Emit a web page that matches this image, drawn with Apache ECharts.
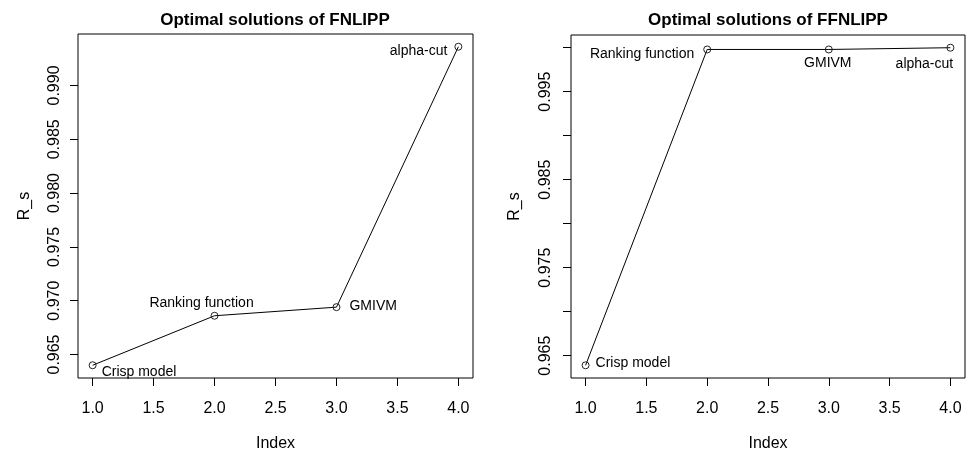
<html>
<head>
<title>Optimal solutions</title>
<script src="https://cdn.jsdelivr.net/npm/echarts@6/dist/echarts.min.js"></script>
<style>
  body { margin: 0; background: #fff; }
  #container { width: 969px; height: 452px; }
</style>
</head>
<body>
<div id="container"></div>
<script type="text/javascript">
  // data
  var methods = ['Crisp model', 'Ranking function', 'GMIVM', 'alpha-cut'];
  var index = [1, 2, 3, 4];
  var rsFNLIPP = [0.9640, 0.9686, 0.9694, 0.9936];
  var rsFFNLIPP = [0.9639, 0.9998, 0.9998, 1.0000];
  var xTicks = [1, 1.5, 2, 2.5, 3, 3.5, 4];
  var yTicksLeft = [0.965, 0.970, 0.975, 0.980, 0.985, 0.990];
  var yTicksRight = [0.965, 0.970, 0.975, 0.980, 0.985, 0.990, 0.995, 1.000];
  var yLabelsRight = [0.965, 0.975, 0.985, 0.995];

  var font = 'Liberation Sans, Arial, sans-serif';

  // R style range: 4% padding each side
  function pad(arr) {
    var mn = Math.min.apply(null, arr), mx = Math.max.apply(null, arr);
    var d = (mx - mn) * 0.04;
    return [mn - d, mx + d];
  }

  function pts(ys) {
    return index.map(function(x, i) { return [x, ys[i]]; });
  }

  function labelled(ys, place) {
    return pts(ys).map(function(p, i) {
      return {
        value: p,
        name: methods[i],
        label: { position: place[i][0], offset: place[i][1] }
      };
    });
  }

  var leftPlace = [['right', [0, 7]], ['top', [-13, 8]], ['right', [4, -1]], ['left', [-2, 4]]];
  var rightPlace = [['right', [1, -2]], ['left', [-4, 5]], ['bottom', [-1, -7]], ['bottom', [-26, -5]]];

  var xr = pad(index);
  var yl = pad(rsFNLIPP);
  var yr = pad(rsFFNLIPP);

  function xAxis(gi) {
    return {
      type: 'value', gridIndex: gi, min: xr[0], max: xr[1],
      name: 'Index', nameLocation: 'middle', nameGap: 52,
      nameTextStyle: { fontFamily: font, fontSize: 16, color: '#000' },
      axisLine: { show: false },
      splitLine: { show: false },
      axisTick: { show: true, inside: false, length: 8, customValues: xTicks, lineStyle: { color: '#000' } },
      axisLabel: {
        customValues: xTicks, margin: 17, fontFamily: font, fontSize: 16, color: '#000',
        formatter: function(v) { return v.toFixed(1); }
      }
    };
  }

  function yAxis(gi, r, ticks, labels, gap, margin) {
    return {
      type: 'value', gridIndex: gi, min: r[0], max: r[1],
      name: 'R_s', nameLocation: 'middle', nameGap: gap,
      nameTextStyle: { fontFamily: font, fontSize: 16, color: '#000' },
      axisLine: { show: false },
      splitLine: { show: false },
      axisTick: { show: true, inside: false, length: 8, customValues: ticks, lineStyle: { color: '#000' } },
      axisLabel: {
        customValues: labels, rotate: 90, margin: margin, fontFamily: font, fontSize: 16, color: '#000',
        formatter: function(v) { return v.toFixed(3); }
      }
    };
  }

  function series(gi, ys, place) {
    return {
      type: 'line', xAxisIndex: gi, yAxisIndex: gi,
      data: labelled(ys, place),
      symbol: 'circle', symbolSize: 7,
      itemStyle: { color: 'rgba(255,255,255,0)', borderColor: '#222', borderWidth: 1 },
      lineStyle: { color: '#000', width: 1 },
      label: {
        show: true, distance: 5, fontFamily: font, fontSize: 14, color: '#000',
        formatter: function(p) { return p.name; }
      },
      emphasis: { disabled: true },
      animation: false
    };
  }

  var dom = document.getElementById('container');
  var myChart = echarts.init(dom, null, { renderer: 'canvas' });
  var option = {
    backgroundColor: '#fff',
    animation: false,
    title: [
      { text: 'Optimal solutions of FNLIPP', left: 275, top: 6, textAlign: 'center', padding: 0,
        textStyle: { fontFamily: font, fontSize: 17, fontWeight: 'bold', color: '#000' } },
      { text: 'Optimal solutions of FFNLIPP', left: 768, top: 6, textAlign: 'center', padding: 0,
        textStyle: { fontFamily: font, fontSize: 17, fontWeight: 'bold', color: '#000' } }
    ],
    grid: [
      { left: 78, top: 34, width: 395, height: 344, show: true, borderColor: '#000', borderWidth: 1,
        backgroundColor: 'transparent', outerBoundsMode: 'none', containLabel: false },
      { left: 571, top: 35, width: 394, height: 343, show: true, borderColor: '#000', borderWidth: 1,
        backgroundColor: 'transparent', outerBoundsMode: 'none', containLabel: false }
    ],
    xAxis: [xAxis(0), xAxis(1)],
    yAxis: [
      yAxis(0, yl, yTicksLeft, yTicksLeft, 40, 10),
      yAxis(1, yr, yTicksRight, yLabelsRight, 43, 12)
    ],
    series: [
      series(0, rsFNLIPP, leftPlace),
      series(1, rsFFNLIPP, rightPlace)
    ]
  };
  if (option && typeof option === 'object') {
    myChart.setOption(option);
  }
</script>
</body>
</html>
